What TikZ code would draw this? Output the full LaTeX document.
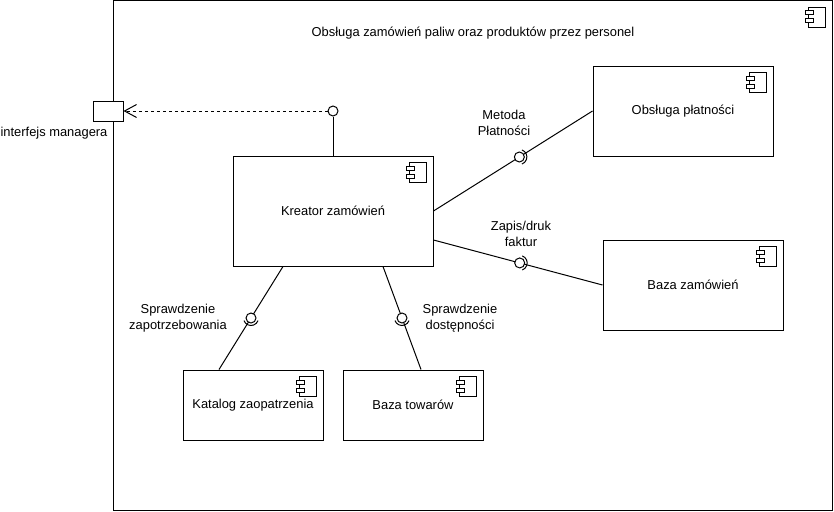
\documentclass[tikz,border=0pt]{standalone}
\usepackage{fontspec}
\setmainfont{Liberation Sans}
\usetikzlibrary{calc,arrows.meta}

% component symbol in the top right corner of a box
\newcommand\compicon[1]{%
  \draw[fill=white] ([shift={(-24pt,-7pt)}]#1.north east) rectangle ([shift={(-7pt,-27pt)}]#1.north east);
  \draw[fill=white] ([shift={(-27pt,-10.5pt)}]#1.north east) rectangle ([shift={(-19pt,-14.5pt)}]#1.north east);
  \draw[fill=white] ([shift={(-27pt,-18.5pt)}]#1.north east) rectangle ([shift={(-19pt,-22.5pt)}]#1.north east);
}
% socket half circle round a ball
\newcommand\socket[3]{\draw ([shift={(#2:7.5pt)}]#1) arc[start angle=#2,end angle=#3,radius=7.5pt];}

\begin{document}
\begin{tikzpicture}[x=1pt,y=-1pt,line width=1pt,
    font=\fontsize{12.9}{15.5}\selectfont,
    comp/.style={draw,fill=white,inner sep=0pt,align=center},
    ball/.style={circle,draw,fill=white,inner sep=0pt,minimum size=10pt},
    lbl/.style={align=center}]
    \useasboundingbox (0,0) rectangle (834,511);

    \node[comp,minimum width=719pt,minimum height=509pt] (system) at (472.5,255.5) {};
    \compicon{system}
    \node (title) at (473,33) {Obsługa zamówień paliw oraz produktów przez personel};

    \node[comp,minimum width=200pt,minimum height=110pt] (kreator) at (333,211) {Kreator zamówień};
    \node[comp,minimum width=180pt,minimum height=90pt] (platnosci) at (683,111) {Obsługa płatności};
    \node[comp,minimum width=180pt,minimum height=90pt] (zamowienia) at (693,285) {Baza zamówień};
    \node[comp,minimum width=140pt,minimum height=70pt] (katalog) at (253,405) {Katalog zaopatrzenia};
    \node[comp,minimum width=140pt,minimum height=70pt] (towary) at (413,405) {Baza towarów};
    \foreach \n in {kreator,platnosci,zamowienia,katalog,towary} {\compicon{\n}}

    % provided interface towards the manager port
    \node[comp,minimum width=30pt,minimum height=20pt] (port) at (108,111) {};
    \node (portlbl) at (54,133) {interfejs managera};
    \node[ball] (iface) at (333,111) {};
    \draw (iface) -- (kreator.north);
    \draw[dash pattern=on 3pt off 3pt,-{Straight Barb[length=12pt,width=13pt]}] (iface) -- (port.east);

    % required interfaces
    \draw (kreator.east) -- coordinate[pos=0.54] (s1) (platnosci.west);
    \draw ([yshift=-29pt]kreator.east) -- coordinate[pos=0.51] (s2) (zamowienia.west);
    \draw ([xshift=-50pt]kreator.south) -- coordinate[pos=0.5] (s3) ([xshift=-34pt]katalog.north);
    \draw ([xshift=50pt]kreator.south) -- coordinate[pos=0.5] (s4) ([xshift=8pt]towary.north);
    \foreach \s in {s1,s2,s3,s4} {\node[ball] at (\s) {};}
    \socket{s1}{70}{-70}
    \socket{s2}{70}{-70}
    \socket{s3}{-160}{-20}
    \socket{s4}{-160}{-20}

    \node[lbl] (metoda) at (504,123) {Metoda\\Płatności};
    \node[lbl] (zapis) at (521,234) {Zapis/druk\\faktur};
    \node[lbl] (zapotrz) at (178,318) {Sprawdzenie\\zapotrzebowania};
    \node[lbl] (dostep) at (460,318) {Sprawdzenie\\dostępności};
\end{tikzpicture}
\end{document}
